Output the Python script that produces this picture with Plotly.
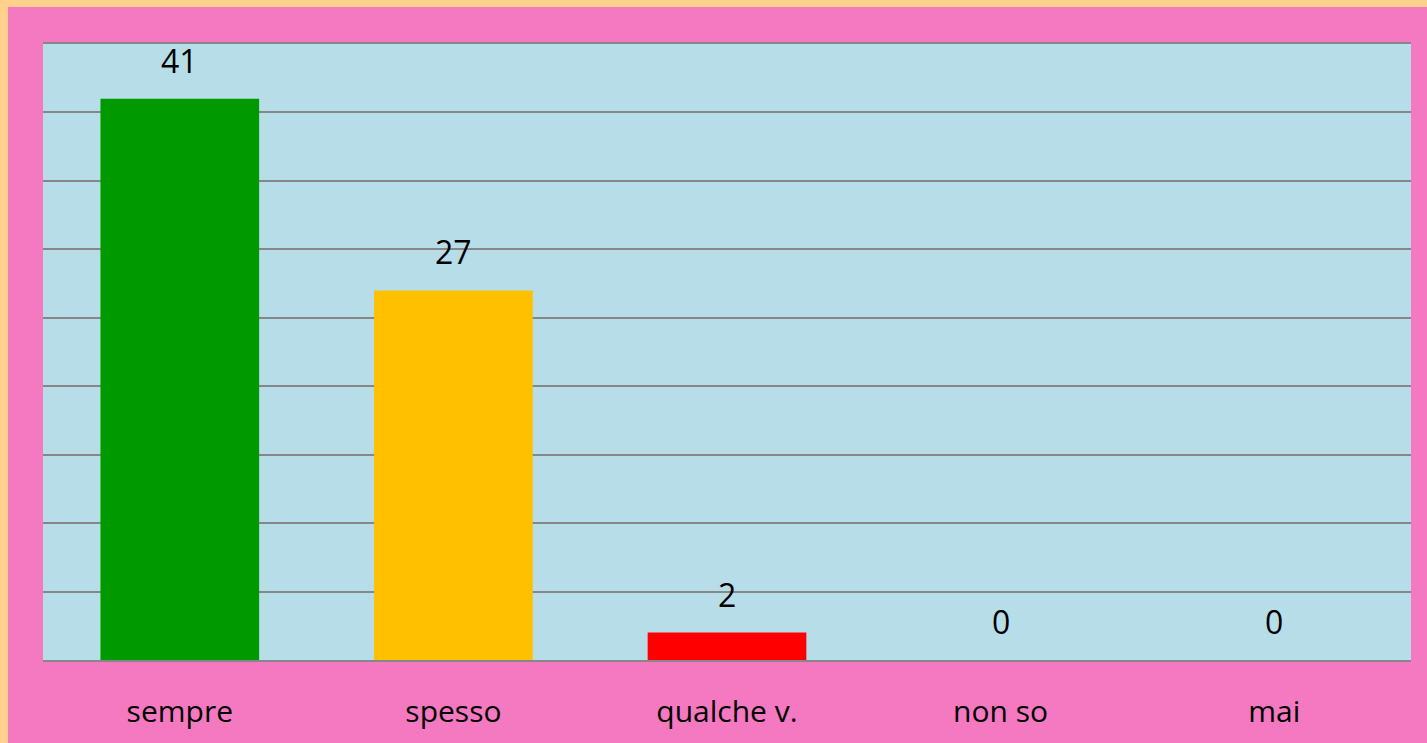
import plotly.graph_objects as go

# dati
categorie = ["sempre", "spesso", "qualche v.", "non so", "mai"]
valori = [41, 27, 2, 0, 0]
colori = ["#009900", "#FFC000", "#FF0000", "#7F7F7F", "#7F7F7F"]

ROSA = "#F479C0"
PESCA = "#FFD18B"
AZZURRO = "#B7DEE8"
GRIGLIA = "#878787"
FONT = "Open Sans, DejaVu Sans, sans-serif"

fig = go.Figure(go.Bar(
    x=categorie, y=valori,
    marker_color=colori, marker_line_width=0,
    hoverinfo="x+y",
))

# etichette dei valori sopra le barre
for c, v in zip(categorie, valori):
    fig.add_annotation(
        x=c, y=v, text=str(v), showarrow=False,
        yanchor="bottom", yshift=15,
        font=dict(family=FONT, size=32, color="#000000"),
    )

fig.update_layout(
    width=1419, height=736,
    margin=dict(l=35, r=16, t=37, b=83),
    paper_bgcolor=ROSA,
    plot_bgcolor=AZZURRO,
    bargap=0.42,
    showlegend=False,
    font=dict(family=FONT, color="#000000"),
    xaxis=dict(
        showgrid=False, zeroline=False,
        showline=True, mirror=True, linecolor=GRIGLIA, linewidth=2,
        ticks="outside", ticklen=24, tickcolor="rgba(0,0,0,0)",
        tickfont=dict(family=FONT, size=30, color="#000000"),
        fixedrange=True,
    ),
    yaxis=dict(
        range=[0, 45], dtick=5, showticklabels=False,
        showgrid=True, gridcolor=GRIGLIA, gridwidth=2,
        zeroline=False, showline=False, fixedrange=True,
    ),
)

fig.write_html(
    "out.html",
    config={"displayModeBar": False},
    post_script=(
        "document.body.style.background='%s';"
        "document.body.style.margin='7px 0 0 8px';"
        "document.body.style.overflow='hidden';" % PESCA
    ),
)
